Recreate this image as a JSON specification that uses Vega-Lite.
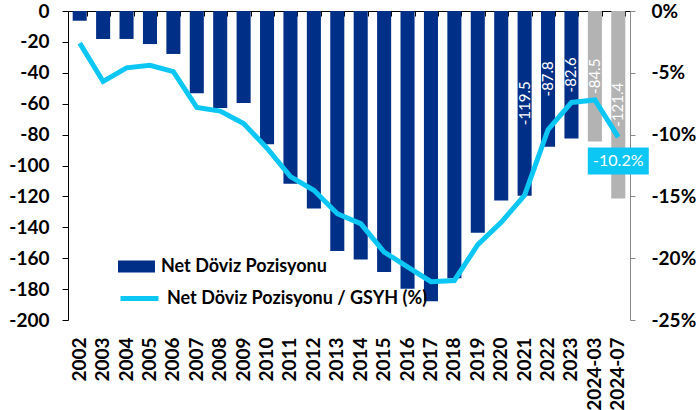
{
  "$schema": "https://vega.github.io/schema/vega-lite/v6.json",
  "width": 562,
  "height": 309,
  "autosize": {"type": "none"},
  "padding": {"left": 68, "top": 11, "right": 69, "bottom": 90},
  "background": "white",
  "config": {
    "view": {"stroke": null},
    "font": "Lato",
    "locale": {"number": {"decimal": ".", "thousands": ",", "grouping": [3], "currency": ["$", ""], "minus": "-"}}
  },
  "data": {
    "values": [
      {"year": "2002", "value": -6.3, "pct": -2.6},
      {"year": "2003", "value": -18.1, "pct": -5.7},
      {"year": "2004", "value": -18.1, "pct": -4.6},
      {"year": "2005", "value": -21.4, "pct": -4.4},
      {"year": "2006", "value": -27.8, "pct": -4.9},
      {"year": "2007", "value": -53.3, "pct": -7.8},
      {"year": "2008", "value": -62.8, "pct": -8.1},
      {"year": "2009", "value": -59.5, "pct": -9.1},
      {"year": "2010", "value": -86.2, "pct": -11.1},
      {"year": "2011", "value": -111.8, "pct": -13.4},
      {"year": "2012", "value": -127.9, "pct": -14.5},
      {"year": "2013", "value": -155.3, "pct": -16.4},
      {"year": "2014", "value": -160.8, "pct": -17.2},
      {"year": "2015", "value": -169.0, "pct": -19.5},
      {"year": "2016", "value": -179.7, "pct": -20.7},
      {"year": "2017", "value": -187.9, "pct": -21.9},
      {"year": "2018", "value": -172.9, "pct": -21.8},
      {"year": "2019", "value": -143.5, "pct": -18.9},
      {"year": "2020", "value": -122.6, "pct": -17.1},
      {"year": "2021", "value": -119.5, "pct": -14.9},
      {"year": "2022", "value": -87.8, "pct": -9.6},
      {"year": "2023", "value": -82.6, "pct": -7.4},
      {"year": "2024-03", "value": -84.5, "pct": -7.2},
      {"year": "2024-07", "value": -121.4, "pct": -10.2}
    ]
  },
  "layer": [
    {
      "mark": {"type": "bar"},
      "encoding": {
        "x": {
          "field": "year", "type": "ordinal", "sort": null,
          "scale": {"type": "band", "paddingInner": 0.4, "paddingOuter": 0.2},
          "axis": {
            "orient": "bottom", "title": null, "domain": false, "ticks": false,
            "labelAngle": 270, "labelFontSize": 19, "labelFontWeight": "bold",
            "labelColor": "#000", "labelPadding": 17
          }
        },
        "y": {
          "field": "value", "type": "quantitative",
          "scale": {"domain": [-200, 0], "nice": false},
          "axis": {
            "orient": "left", "title": null, "grid": false,
            "values": [0, -20, -40, -60, -80, -100, -120, -140, -160, -180, -200],
            "domainColor": "#000", "tickColor": "#000", "tickSize": 6,
            "labelPadding": 13, "labelFontSize": 19, "labelFontWeight": "bold", "labelColor": "#000"
          }
        },
        "color": {
          "datum": "Net Döviz Pozisyonu",
          "scale": {"range": ["#002F87"]},
          "condition": {"test": {"field": "year", "oneOf": ["2024-03", "2024-07"]}, "value": "#B3B3B3"},
          "legend": {
            "orient": "none", "legendX": 50, "legendY": 237, "title": null,
            "symbolType": "M-1,-0.32H1V0.32H-1Z", "symbolSize": 1369, "symbolStrokeWidth": 0,
            "labelFontSize": 18, "labelFontWeight": "bold", "labelColor": "#000", "labelOffset": 6, "labelLimit": 400
          }
        }
      }
    },
    {
      "transform": [{"filter": {"field": "year", "oneOf": ["2021", "2022", "2023", "2024-03", "2024-07"]}}],
      "mark": {"type": "text", "angle": 270, "color": "white", "fontSize": 15, "align": "center", "baseline": "middle"},
      "encoding": {
        "x": {
          "field": "year", "type": "ordinal", "sort": null,
          "scale": {"type": "band", "paddingInner": 0.4, "paddingOuter": 0.2,
            "domain": ["2002","2003","2004","2005","2006","2007","2008","2009","2010","2011","2012","2013","2014","2015","2016","2017","2018","2019","2020","2021","2022","2023","2024-03","2024-07"]},
          "axis": null
        },
        "y": {"field": "value", "type": "quantitative", "scale": {"domain": [-400, 0], "nice": false}, "axis": null},
        "text": {"field": "value", "type": "quantitative", "format": ".1f"}
      }
    },
    {
      "encoding": {
        "x": {
          "field": "year", "type": "ordinal", "sort": null,
          "scale": {"type": "band", "paddingInner": 0.4, "paddingOuter": 0.2},
          "axis": {
            "orient": "bottom", "offset": -309, "labels": false, "title": null,
            "domain": true, "domainColor": "#000", "ticks": true, "tickBand": "extent",
            "tickSize": 5, "tickColor": "#000"
          }
        },
        "y": {
          "field": "pct", "type": "quantitative",
          "scale": {"domain": [-25, 0], "nice": false},
          "axis": {
            "orient": "right", "title": null, "grid": false,
            "values": [0, -5, -10, -15, -20, -25], "labelExpr": "datum.value + '%'",
            "domainColor": "#888", "tickColor": "#888", "tickSize": 5,
            "labelPadding": 16, "labelFontSize": 19, "labelFontWeight": "bold", "labelColor": "#000"
          }
        }
      },
      "layer": [
        {
          "mark": {"type": "line", "strokeWidth": 5},
          "encoding": {
            "stroke": {
              "datum": "Net Döviz Pozisyonu / GSYH (%)",
              "scale": {"range": ["#0CC6F4"]},
              "legend": {
                "orient": "none", "legendX": 50, "legendY": 266, "title": null,
                "symbolType": "stroke", "symbolSize": 1444, "symbolStrokeWidth": 5,
                "labelFontSize": 18, "labelFontWeight": "bold", "labelColor": "#000", "labelOffset": 6, "labelLimit": 400
              }
            }
          }
        },
        {
          "transform": [{"filter": {"field": "year", "equal": "2024-07"}}],
          "mark": {"type": "point", "shape": "M-1,-0.443H1V0.443H-1Z", "size": 3721, "filled": true, "color": "#0CC6F4", "opacity": 1, "yOffset": 24}
        },
        {
          "transform": [{"filter": {"field": "year", "equal": "2024-07"}}],
          "mark": {"type": "text", "color": "white", "fontSize": 16, "yOffset": 24, "align": "center", "baseline": "middle",
            "text": {"expr": "format(datum.pct, '.1f') + '%'"}}
        }
      ]
    }
  ],
  "resolve": {"scale": {"x": "independent", "y": "independent"}}
}
